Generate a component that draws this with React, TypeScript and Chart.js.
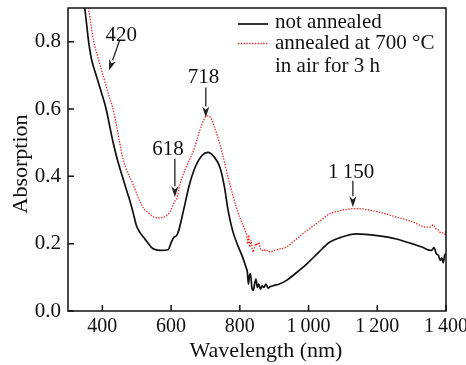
import React, { useEffect, useRef } from 'react';
import { Chart, registerables } from 'chart.js';

Chart.register(...registerables);

const FONT = '"Liberation Serif", "Times New Roman", serif';

// Not annealed (black solid)
const wavelengthNotAnnealed = [340, 349, 360, 368, 382, 397, 411, 421, 431, 443, 458, 470, 480, 490, 499, 510, 523, 542, 552, 570, 591, 601, 608, 614, 620, 636, 652, 670, 690, 707, 725, 742, 755, 766, 780, 796, 808, 818, 822, 825, 828, 831, 835, 839, 843, 847, 851, 855, 860, 865, 870, 876, 882, 888, 900, 915, 936, 960, 995, 1030, 1062, 1092, 1140, 1200, 1256, 1300, 1330, 1354, 1360, 1365, 1372, 1378, 1383, 1388, 1392, 1396, 1400];
const absorptionNotAnnealed = [0.95, 0.897, 0.8, 0.75, 0.7, 0.65, 0.6, 0.551, 0.502, 0.452, 0.4, 0.36, 0.328, 0.29, 0.254, 0.232, 0.215, 0.19, 0.183, 0.18, 0.182, 0.205, 0.219, 0.222, 0.232, 0.298, 0.37, 0.427, 0.462, 0.471, 0.458, 0.427, 0.37, 0.298, 0.235, 0.19, 0.16, 0.13, 0.115, 0.08, 0.105, 0.11, 0.07, 0.061, 0.08, 0.095, 0.07, 0.08, 0.065, 0.075, 0.07, 0.08, 0.068, 0.072, 0.076, 0.08, 0.091, 0.11, 0.14, 0.175, 0.205, 0.218, 0.229, 0.224, 0.214, 0.2, 0.19, 0.18, 0.182, 0.188, 0.17, 0.165, 0.15, 0.158, 0.143, 0.165, 0.17];

// Annealed at 700 °C in air for 3 h (red dotted)
const wavelengthAnnealed = [352, 360, 375, 388, 402, 416, 431, 441, 450, 460, 470, 489, 508, 520, 533, 548, 565, 581, 596, 604, 610, 617, 626, 645, 665, 685, 704, 715, 725, 747, 771, 793, 806, 815, 820, 823, 826, 829, 833, 836, 839, 843, 847, 851, 855, 860, 865, 870, 876, 882, 888, 900, 915, 936, 960, 995, 1030, 1062, 1092, 1120, 1140, 1200, 1256, 1300, 1344, 1355, 1363, 1370, 1378, 1385, 1392, 1397, 1400];
const absorptionAnnealed = [0.95, 0.897, 0.8, 0.75, 0.7, 0.65, 0.6, 0.551, 0.502, 0.452, 0.42, 0.377, 0.328, 0.305, 0.293, 0.28, 0.277, 0.28, 0.293, 0.31, 0.325, 0.335, 0.377, 0.43, 0.476, 0.54, 0.58, 0.575, 0.55, 0.476, 0.377, 0.298, 0.262, 0.24, 0.225, 0.2, 0.225, 0.19, 0.21, 0.185, 0.175, 0.19, 0.2, 0.195, 0.204, 0.185, 0.18, 0.183, 0.178, 0.18, 0.175, 0.18, 0.184, 0.19, 0.21, 0.239, 0.265, 0.289, 0.298, 0.303, 0.304, 0.295, 0.279, 0.266, 0.249, 0.25, 0.256, 0.245, 0.24, 0.232, 0.232, 0.228, 0.24];

const xTickValues = [400, 600, 800, 1000, 1200, 1400];
const yTickValues = [0, 0.2, 0.4, 0.6, 0.8];
const seriesNames = ['not annealed', 'annealed at 700 °C'];
const legendSecondLine = 'in air for 3 h';
const xTitle = 'Wavelength (nm)';
const yTitle = 'Absorption';

// Peak annotations (data coordinates)
const peakLabels = ['420', '618', '718', '1\u2009150'];
const peakTextX = [455, 591, 694, 1124];
const peakTextY = [0.823, 0.485, 0.698, 0.417];
const peakTailX = [450, 611, 701, 1129];
const peakTailY = [0.803, 0.452, 0.664, 0.387];
const peakTipX = [419, 611, 701, 1129];
const peakTipY = [0.714, 0.338, 0.575, 0.308];

const zip = (xs: number[], ys: number[]) => xs.map((x, i) => ({ x, y: ys[i] }));

const fmtX = (v: number) =>
  v >= 1000 ? `${Math.floor(v / 1000)}\u2009${String(v % 1000).padStart(3, '0')}` : String(v);

const decorPlugin = {
  id: 'decor',
  afterDraw(chart: any) {
    const { ctx, chartArea, scales } = chart;
    const { left, top, right, bottom } = chartArea;
    const x = scales.x;
    const y = scales.y;
    ctx.save();
    // frame
    ctx.strokeStyle = '#111';
    ctx.lineWidth = 1.5;
    ctx.strokeRect(left, top, right - left, bottom - top);
    // inward ticks
    ctx.beginPath();
    xTickValues.forEach((v) => {
      const px = x.getPixelForValue(v);
      ctx.moveTo(px, bottom);
      ctx.lineTo(px, bottom - 6);
    });
    yTickValues.forEach((v) => {
      const py = y.getPixelForValue(v);
      ctx.moveTo(left, py);
      ctx.lineTo(left + 6, py);
    });
    ctx.stroke();

    // axis titles
    ctx.fillStyle = '#111';
    ctx.font = `22px ${FONT}`;
    ctx.textAlign = 'center';
    ctx.textBaseline = 'alphabetic';
    ctx.fillText(xTitle, 266, 357);
    ctx.save();
    ctx.translate(26.5, 164);
    ctx.rotate(-Math.PI / 2);
    ctx.fillText(yTitle, 0, 0);
    ctx.restore();

    // legend
    ctx.font = `21px ${FONT}`;
    ctx.textAlign = 'left';
    ctx.lineWidth = 1.7;
    ctx.strokeStyle = '#111';
    ctx.setLineDash([]);
    ctx.beginPath();
    ctx.moveTo(right - 208, top + 16);
    ctx.lineTo(right - 178, top + 16);
    ctx.stroke();
    ctx.strokeStyle = 'rgb(232,40,40)';
    ctx.lineWidth = 1.3;
    ctx.setLineDash([1.4, 1.4]);
    ctx.beginPath();
    ctx.moveTo(right - 208, top + 35.5);
    ctx.lineTo(right - 178, top + 35.5);
    ctx.stroke();
    ctx.setLineDash([]);
    ctx.fillStyle = '#111';
    ctx.fillText(seriesNames[0], right - 171, top + 20);
    ctx.fillText(seriesNames[1], right - 171, top + 41);
    ctx.fillText(legendSecondLine, right - 171, top + 64);

    // peak annotations
    ctx.textAlign = 'center';
    ctx.textBaseline = 'alphabetic';
    ctx.strokeStyle = '#222';
    ctx.fillStyle = '#222';
    peakLabels.forEach((lab, i) => {
      const tx = x.getPixelForValue(peakTextX[i]);
      const ty = y.getPixelForValue(peakTextY[i]);
      ctx.fillStyle = '#111';
      ctx.fillText(lab, tx, ty + 7);
      const ax = x.getPixelForValue(peakTailX[i]);
      const ay = y.getPixelForValue(peakTailY[i]);
      const bx = x.getPixelForValue(peakTipX[i]);
      const by = y.getPixelForValue(peakTipY[i]);
      const ang = Math.atan2(by - ay, bx - ax);
      const hl = 11;
      const hw = 3.6;
      const baseX = bx - hl * Math.cos(ang);
      const baseY = by - hl * Math.sin(ang);
      ctx.lineWidth = 1.3;
      ctx.beginPath();
      ctx.moveTo(ax, ay);
      ctx.lineTo(baseX, baseY);
      ctx.stroke();
      ctx.fillStyle = '#222';
      ctx.beginPath();
      ctx.moveTo(bx, by);
      ctx.lineTo(baseX + hw * Math.sin(ang), baseY - hw * Math.cos(ang));
      ctx.lineTo(bx - (hl * 0.7) * Math.cos(ang), by - (hl * 0.7) * Math.sin(ang));
      ctx.lineTo(baseX - hw * Math.sin(ang), baseY + hw * Math.cos(ang));
      ctx.closePath();
      ctx.fill();
    });
    ctx.restore();
  },
};

export default function App() {
  const ref = useRef<HTMLCanvasElement | null>(null);
  useEffect(() => {
    if (!ref.current) return;
    const chart = new Chart(ref.current, {
      type: 'line',
      data: {
        datasets: [
          {
            label: seriesNames[1],
            data: zip(wavelengthAnnealed, absorptionAnnealed),
            borderColor: 'rgb(232,40,40)',
            borderWidth: 1.3,
            borderDash: [1.4, 1.4],
            pointRadius: 0,
            cubicInterpolationMode: 'monotone',
            fill: false,
          },
          {
            label: seriesNames[0],
            data: zip(wavelengthNotAnnealed, absorptionNotAnnealed),
            borderColor: '#111',
            borderWidth: 1.7,
            pointRadius: 0,
            cubicInterpolationMode: 'monotone',
            fill: false,
          },
        ],
      },
      options: {
        animation: false,
        responsive: false,
        events: [],
        layout: { padding: { top: 8, right: 20, left: 0, bottom: 0 } },
        plugins: {
          legend: { display: false },
          tooltip: { enabled: false },
          title: { display: false },
        },
        scales: {
          x: {
            type: 'linear',
            min: 300,
            max: 1400,
            grid: { display: false, drawTicks: false },
            border: { display: false },
            afterBuildTicks: (s: any) => {
              s.ticks = xTickValues.map((v) => ({ value: v }));
            },
            afterFit: (s: any) => {
              s.height = 54;
              s.paddingLeft = 0;
              s.paddingRight = 0;
            },
            ticks: {
              padding: 4,
              maxRotation: 0,
              autoSkip: false,
              color: '#111',
              font: { family: FONT, size: 20 },
              callback: (v: any) => fmtX(Number(v)),
            },
          },
          y: {
            type: 'linear',
            min: 0,
            max: 0.9,
            grid: { display: false, drawTicks: false },
            border: { display: false },
            afterBuildTicks: (s: any) => {
              s.ticks = yTickValues.map((v) => ({ value: v }));
            },
            afterFit: (s: any) => {
              s.width = 68;
              s.paddingTop = 0;
              s.paddingBottom = 0;
            },
            ticks: {
              padding: 7,
              autoSkip: false,
              color: '#111',
              font: { family: FONT, size: 21 },
              callback: (v: any) => Number(v).toFixed(1),
            },
          },
        },
      },
      plugins: [decorPlugin],
    });
    return () => chart.destroy();
  }, []);
  return (
    <canvas
      ref={ref}
      width={466}
      height={365}
      style={{ position: 'absolute', left: 0, top: 0, display: 'block', background: '#fff' }}
    />
  );
}
